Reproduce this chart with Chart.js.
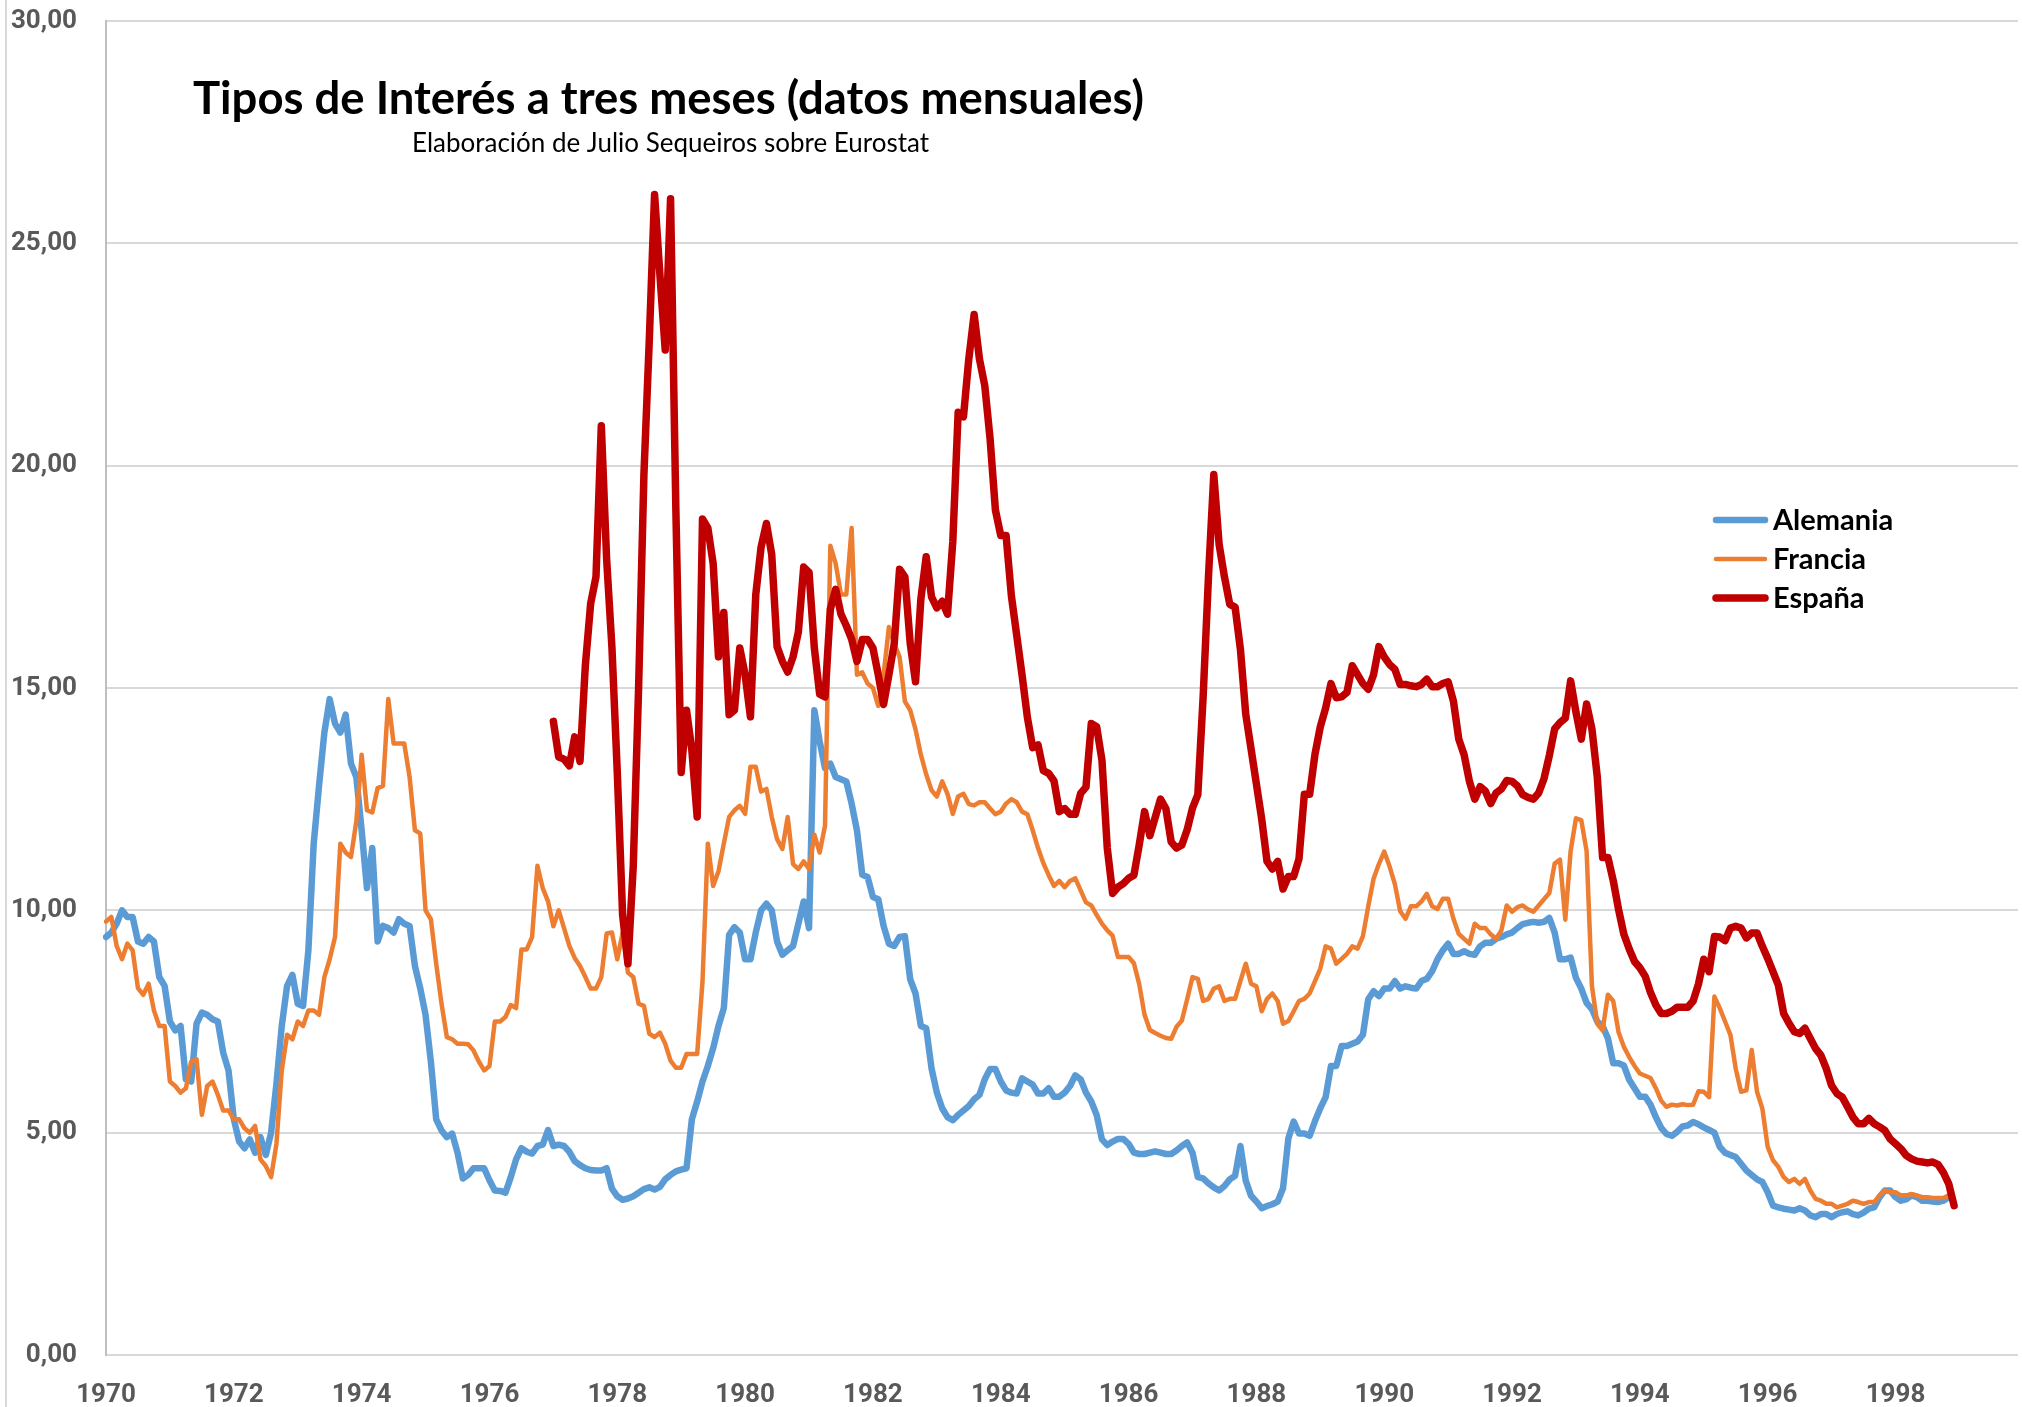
<!DOCTYPE html>
<html lang="es">
<head>
<meta charset="utf-8">
<title>Tipos de Interés a tres meses</title>
<script src="https://cdn.jsdelivr.net/npm/chart.js@4.4.1/dist/chart.umd.min.js"></script>
<style>
    html, body { margin: 0; padding: 0; background: #ffffff; }
    #wrap { position: relative; width: 2022px; height: 1407px; }
    #edge { position: absolute; left: 5px; top: 0; width: 2px; height: 1407px; background: #d9d9d9; }
</style>
</head>
<body>
<div id="wrap">
    <canvas id="ratesChart" width="2022" height="1407"></canvas>
    <div id="edge"></div>
</div>
<script>
// Categories: one per month, 1970-1999 (1999 stays empty, as in the original axis)
const years = [1970, 1971, 1972, 1973, 1974, 1975, 1976, 1977, 1978, 1979,
               1980, 1981, 1982, 1983, 1984, 1985, 1986, 1987, 1988, 1989,
               1990, 1991, 1992, 1993, 1994, 1995, 1996, 1997, 1998, 1999];
const months = ['01', '02', '03', '04', '05', '06', '07', '08', '09', '10', '11', '12'];
const tickYears = ['1970', '1972', '1974', '1976', '1978', '1980', '1982', '1984',
                   '1986', '1988', '1990', '1992', '1994', '1996', '1998'];

const chartTitle = 'Tipos de Interés a tres meses (datos mensuales)';
const chartSubtitle = 'Elaboración de Julio Sequeiros sobre Eurostat';

// Three-month rates, monthly, one line per year (Jan..Dec)
const alemania = [
    9.40, 9.50, 9.70, 10.00, 9.85, 9.85, 9.30, 9.25, 9.40, 9.30, 8.50, 8.30,       // 1970
    7.50, 7.30, 7.40, 6.20, 6.15, 7.45, 7.70, 7.65, 7.55, 7.50, 6.80, 6.40,        // 1971
    5.30, 4.80, 4.65, 4.85, 4.55, 4.90, 4.50, 5.00, 6.10, 7.40, 8.30, 8.55,        // 1972
    7.90, 7.85, 9.10, 11.50, 12.80, 14.00, 14.75, 14.20, 14.00, 14.40, 13.30, 13.00, // 1973
    11.80, 10.50, 11.40, 9.30, 9.65, 9.60, 9.50, 9.80, 9.70, 9.65, 8.75, 8.25,     // 1974
    7.65, 6.60, 5.30, 5.05, 4.90, 4.98, 4.55, 3.97, 4.05, 4.20, 4.20, 4.20,        // 1975
    3.93, 3.70, 3.69, 3.65, 4.00, 4.40, 4.65, 4.57, 4.53, 4.70, 4.73, 5.06,        // 1976
    4.70, 4.73, 4.70, 4.57, 4.36, 4.27, 4.20, 4.16, 4.15, 4.15, 4.20, 3.74,        // 1977
    3.57, 3.49, 3.52, 3.57, 3.65, 3.73, 3.77, 3.72, 3.78, 3.95, 4.05, 4.13,        // 1978
    4.17, 4.20, 5.30, 5.70, 6.15, 6.50, 6.90, 7.40, 7.80, 9.45, 9.62, 9.50,        // 1979
    8.90, 8.90, 9.50, 10.00, 10.15, 10.00, 9.30, 9.00, 9.10, 9.20, 9.70, 10.20,    // 1980
    9.60, 14.50, 13.80, 13.20, 13.30, 13.00, 12.95, 12.90, 12.40, 11.80, 10.80, 10.75, // 1981
    10.30, 10.25, 9.65, 9.25, 9.20, 9.40, 9.42, 8.45, 8.13, 7.40, 7.35, 6.45,      // 1982
    5.90, 5.55, 5.35, 5.28, 5.40, 5.50, 5.60, 5.75, 5.85, 6.20, 6.43, 6.43,        // 1983
    6.15, 5.95, 5.90, 5.88, 6.22, 6.15, 6.08, 5.88, 5.88, 6.00, 5.81, 5.81,        // 1984
    5.90, 6.05, 6.29, 6.20, 5.90, 5.70, 5.40, 4.85, 4.72, 4.80, 4.86, 4.86,        // 1985
    4.75, 4.55, 4.52, 4.52, 4.55, 4.58, 4.55, 4.52, 4.52, 4.60, 4.70, 4.78,        // 1986
    4.55, 4.00, 3.97, 3.86, 3.77, 3.70, 3.80, 3.95, 4.03, 4.70, 3.92, 3.58,        // 1987
    3.45, 3.30, 3.35, 3.39, 3.45, 3.75, 4.87, 5.25, 4.98, 4.98, 4.93, 5.26,        // 1988
    5.55, 5.80, 6.50, 6.50, 6.95, 6.95, 7.00, 7.05, 7.20, 8.00, 8.18, 8.07,        // 1989
    8.24, 8.24, 8.41, 8.24, 8.29, 8.26, 8.24, 8.41, 8.46, 8.63, 8.90, 9.10,        // 1990
    9.25, 9.02, 9.02, 9.08, 9.02, 9.00, 9.19, 9.27, 9.27, 9.36, 9.40, 9.46,        // 1991
    9.50, 9.60, 9.69, 9.72, 9.74, 9.72, 9.74, 9.83, 9.50, 8.90, 8.90, 8.94,        // 1992
    8.48, 8.24, 7.92, 7.78, 7.50, 7.40, 7.12, 6.56, 6.56, 6.51, 6.19, 6.00,        // 1993
    5.81, 5.81, 5.63, 5.35, 5.11, 4.97, 4.93, 5.02, 5.14, 5.16, 5.24, 5.19,        // 1994
    5.12, 5.06, 5.00, 4.68, 4.55, 4.50, 4.45, 4.30, 4.15, 4.05, 3.95, 3.89,        // 1995
    3.66, 3.36, 3.32, 3.29, 3.27, 3.25, 3.30, 3.25, 3.14, 3.10, 3.17, 3.17,        // 1996
    3.10, 3.17, 3.21, 3.23, 3.17, 3.14, 3.20, 3.29, 3.32, 3.55, 3.70, 3.70,        // 1997
    3.55, 3.47, 3.50, 3.59, 3.55, 3.47, 3.47, 3.45, 3.44, 3.47, 3.55, null         // 1998
];

const francia = [
    9.75, 9.85, 9.20, 8.90, 9.25, 9.10, 8.25, 8.10, 8.35, 7.75, 7.40, 7.40,        // 1970
    6.15, 6.05, 5.90, 6.00, 6.60, 6.65, 5.40, 6.05, 6.15, 5.85, 5.50, 5.50,        // 1971
    5.30, 5.30, 5.10, 5.00, 5.15, 4.40, 4.25, 4.00, 4.75, 6.40, 7.20, 7.10,        // 1972
    7.50, 7.40, 7.75, 7.75, 7.65, 8.50, 8.90, 9.40, 11.50, 11.30, 11.20, 12.00,    // 1973
    13.50, 12.25, 12.20, 12.75, 12.80, 14.75, 13.75, 13.75, 13.75, 13.00, 11.80, 11.73, // 1974
    10.00, 9.80, 8.80, 7.90, 7.15, 7.10, 7.00, 7.00, 6.99, 6.85, 6.60, 6.40,       // 1975
    6.50, 7.50, 7.50, 7.60, 7.87, 7.80, 9.12, 9.12, 9.40, 11.00, 10.50, 10.20,     // 1976
    9.64, 10.00, 9.60, 9.20, 8.93, 8.75, 8.50, 8.24, 8.24, 8.50, 9.48, 9.50,       // 1977
    8.90, 9.50, 8.60, 8.50, 7.90, 7.85, 7.23, 7.15, 7.25, 7.00, 6.62, 6.46,        // 1978
    6.46, 6.77, 6.77, 6.77, 8.40, 11.50, 10.55, 10.88, 11.50, 12.10, 12.25, 12.35, // 1979
    12.17, 13.23, 13.23, 12.67, 12.73, 12.10, 11.60, 11.38, 12.10, 11.04, 10.93, 11.10, // 1980
    10.93, 11.70, 11.30, 11.90, 18.20, 17.80, 17.10, 17.10, 18.60, 15.30, 15.35, 15.10, // 1981
    15.00, 14.60, 15.30, 16.37, 16.00, 15.70, 14.70, 14.50, 14.07, 13.50, 13.06, 12.70, // 1982
    12.56, 12.90, 12.62, 12.17, 12.56, 12.62, 12.39, 12.36, 12.43, 12.43, 12.29, 12.16, // 1983
    12.22, 12.40, 12.50, 12.43, 12.22, 12.16, 11.80, 11.40, 11.06, 10.79, 10.55, 10.66, // 1984
    10.52, 10.66, 10.72, 10.45, 10.18, 10.11, 9.90, 9.70, 9.55, 9.43, 8.95, 8.95,  // 1985
    8.95, 8.81, 8.34, 7.65, 7.31, 7.24, 7.18, 7.13, 7.11, 7.38, 7.52, 8.00,        // 1986
    8.50, 8.46, 7.96, 8.01, 8.24, 8.29, 7.96, 8.01, 8.01, 8.41, 8.80, 8.35,        // 1987
    8.29, 7.73, 8.01, 8.13, 7.96, 7.45, 7.51, 7.73, 7.96, 8.01, 8.13, 8.41,        // 1988
    8.69, 9.19, 9.14, 8.80, 8.91, 9.02, 9.19, 9.14, 9.42, 10.09, 10.71, 11.04,     // 1989
    11.32, 10.99, 10.59, 9.98, 9.81, 10.09, 10.09, 10.20, 10.37, 10.09, 10.03, 10.26, // 1990
    10.26, 9.81, 9.47, 9.36, 9.25, 9.70, 9.60, 9.60, 9.46, 9.36, 9.55, 10.11,      // 1991
    9.97, 10.07, 10.11, 10.02, 9.97, 10.11, 10.25, 10.39, 11.05, 11.14, 9.79, 11.33, // 1992
    12.07, 12.03, 11.33, 8.30, 7.45, 7.30, 8.10, 7.96, 7.26, 6.93, 6.70, 6.50,     // 1993
    6.33, 6.28, 6.23, 6.00, 5.72, 5.58, 5.63, 5.61, 5.64, 5.62, 5.63, 5.93,        // 1994
    5.92, 5.80, 8.06, 7.80, 7.50, 7.20, 6.44, 5.92, 5.95, 6.86, 5.92, 5.54,        // 1995
    4.68, 4.38, 4.23, 4.00, 3.89, 3.96, 3.85, 3.96, 3.70, 3.51, 3.47, 3.40,        // 1996
    3.40, 3.32, 3.36, 3.40, 3.47, 3.44, 3.40, 3.44, 3.44, 3.59, 3.70, 3.66,        // 1997
    3.66, 3.59, 3.59, 3.62, 3.59, 3.55, 3.55, 3.53, 3.53, 3.53, 3.59, null         // 1998
];

const espana = [
    null, null, null, null, null, null, null, null, null, null, null, null,        // 1970
    null, null, null, null, null, null, null, null, null, null, null, null,        // 1971
    null, null, null, null, null, null, null, null, null, null, null, null,        // 1972
    null, null, null, null, null, null, null, null, null, null, null, null,        // 1973
    null, null, null, null, null, null, null, null, null, null, null, null,        // 1974
    null, null, null, null, null, null, null, null, null, null, null, null,        // 1975
    null, null, null, null, null, null, null, null, null, null, null, null,        // 1976
    14.25, 13.45, 13.40, 13.25, 13.90, 13.35, 15.50, 16.90, 17.50, 20.90, 17.90, 15.90, // 1977
    13.10, 9.90, 8.80, 11.00, 15.00, 19.80, 22.80, 26.10, 24.30, 22.60, 26.00, 19.00,   // 1978
    13.10, 14.50, 13.60, 12.10, 18.80, 18.60, 17.80, 15.70, 16.70, 14.40, 14.50, 15.90, // 1979
    15.30, 14.35, 17.10, 18.17, 18.70, 18.00, 15.93, 15.60, 15.36, 15.70, 16.26, 17.72, // 1980
    17.60, 15.90, 14.86, 14.80, 16.77, 17.22, 16.66, 16.40, 16.10, 15.60, 16.09, 16.09, // 1981
    15.90, 15.30, 14.63, 15.30, 16.00, 17.67, 17.50, 16.00, 15.14, 17.00, 17.95, 17.05, // 1982
    16.80, 16.95, 16.66, 18.30, 21.20, 21.10, 22.40, 23.40, 22.40, 21.80, 20.60, 19.00, // 1983
    18.43, 18.43, 17.07, 16.18, 15.29, 14.34, 13.66, 13.72, 13.14, 13.08, 12.91, 12.22, // 1984
    12.29, 12.16, 12.16, 12.63, 12.77, 14.20, 14.13, 13.38, 11.40, 10.38, 10.52, 10.60, // 1985
    10.72, 10.79, 11.47, 12.22, 11.68, 12.09, 12.50, 12.29, 11.54, 11.40, 11.47, 11.81, // 1986
    12.30, 12.60, 14.80, 17.50, 19.80, 18.23, 17.50, 16.88, 16.82, 15.87, 14.41, 13.63, // 1987
    12.84, 12.05, 11.10, 10.93, 11.10, 10.48, 10.76, 10.76, 11.16, 12.61, 12.61, 13.51, // 1988
    14.13, 14.55, 15.10, 14.78, 14.80, 14.90, 15.50, 15.30, 15.10, 14.97, 15.30, 15.93, // 1989
    15.70, 15.53, 15.42, 15.08, 15.08, 15.05, 15.03, 15.08, 15.20, 15.03, 15.03, 15.10, // 1990
    15.14, 14.70, 13.85, 13.50, 12.90, 12.50, 12.78, 12.68, 12.40, 12.64, 12.73, 12.92, // 1991
    12.90, 12.80, 12.60, 12.54, 12.50, 12.64, 12.96, 13.48, 14.08, 14.22, 14.32, 15.16, // 1992
    14.46, 13.85, 14.64, 14.08, 13.01, 11.19, 11.19, 10.67, 10.02, 9.46, 9.13, 8.85,    // 1993
    8.71, 8.52, 8.15, 7.87, 7.68, 7.68, 7.73, 7.82, 7.82, 7.82, 7.96, 8.34,             // 1994
    8.90, 8.62, 9.41, 9.40, 9.32, 9.60, 9.64, 9.60, 9.38, 9.49, 9.49, 9.19,             // 1995
    8.92, 8.62, 8.32, 7.68, 7.46, 7.27, 7.23, 7.35, 7.12, 6.89, 6.74, 6.44,             // 1996
    6.06, 5.88, 5.80, 5.58, 5.35, 5.20, 5.20, 5.32, 5.20, 5.13, 5.05, 4.86,             // 1997
    4.75, 4.64, 4.49, 4.41, 4.36, 4.34, 4.32, 4.34, 4.28, 4.10, 3.85, 3.36              // 1998
];

const monthLabels = [];
years.forEach(y => months.forEach(m => monthLabels.push(y + '-' + m)));

const tickFont = { family: 'Roboto, "Liberation Sans", sans-serif', weight: 'bold', size: 26 };

// title, subtitle and legend sit inside the plot area, so they are drawn by hand
const overlayText = {
    id: 'overlayText',
    afterDraw(chart) {
        const c = chart.ctx;
        c.save();
        c.fillStyle = '#000000';
        c.textAlign = 'left';
        c.textBaseline = 'alphabetic';
        c.font = 'bold 46px Lato, "Open Sans", sans-serif';
        c.fillText(chartTitle, 193, 114, 951);
        c.font = '26px Lato, "Open Sans", sans-serif';
        c.fillText(chartSubtitle, 412, 152, 517);

        // legend, in dataset order Alemania / Francia / España
        const legendRows = [520, 559, 598];
        ['Alemania', 'Francia', 'España'].forEach((name, i) => {
            const ds = chart.data.datasets.find(d => d.label === name);
            const y = legendRows[i];
            c.beginPath();
            c.strokeStyle = ds.borderColor;
            c.lineWidth = ds.borderWidth;
            c.lineCap = 'round';
            c.moveTo(1716, y);
            c.lineTo(1765, y);
            c.stroke();
            c.font = 'bold 29px Lato, "Open Sans", sans-serif';
            c.fillText(name, 1773, y + 10);
        });
        c.restore();
    }
};

const ctx = document.getElementById('ratesChart').getContext('2d');
const ratesChart = new Chart(ctx, {
    type: 'line',
    data: {
        labels: monthLabels,
        datasets: [
            { label: 'Alemania', data: alemania, borderColor: '#5b9bd5', borderWidth: 6.5, order: 2 },
            { label: 'Francia', data: francia, borderColor: '#ed7d31', borderWidth: 4.5, order: 1 },
            { label: 'España', data: espana, borderColor: '#c00000', borderWidth: 7.5, order: 0 }
        ]
    },
    options: {
        responsive: false,
        animation: false,
        layout: { padding: { top: 21, right: 4, left: 0, bottom: 0 } },
        elements: {
            point: { radius: 0 },
            line: { tension: 0, borderCapStyle: 'round', borderJoinStyle: 'round', fill: false }
        },
        plugins: {
            legend: { display: false },
            tooltip: { enabled: false }
        },
        scales: {
            x: {
                grid: { display: false, drawTicks: false },
                border: { display: false },
                ticks: {
                    autoSkip: false,
                    maxRotation: 0,
                    minRotation: 0,
                    padding: 25,
                    color: '#595959',
                    font: tickFont,
                    callback: function (value, index) {
                        const parts = monthLabels[index].split('-');
                        return (parts[1] === '01' && tickYears.includes(parts[0])) ? parts[0] : '';
                    }
                },
                afterFit: function (scale) {
                    scale.height = 52;
                    scale.paddingRight = 0;
                    scale.paddingTop = 0;
                }
            },
            y: {
                min: 0,
                max: 30,
                grid: { color: '#d9d9d9', lineWidth: 2, drawTicks: false },
                border: { display: true, color: '#bfbfbf', width: 2 },
                ticks: {
                    stepSize: 5,
                    padding: 29,
                    color: '#595959',
                    font: tickFont,
                    callback: function (value) {
                        return value.toFixed(2).replace('.', ',');
                    }
                },
                afterFit: function (scale) {
                    scale.width = 106;
                    scale.paddingTop = 0;
                    scale.paddingBottom = 0;
                }
            }
        }
    },
    plugins: [overlayText]
});
</script>
</body>
</html>
